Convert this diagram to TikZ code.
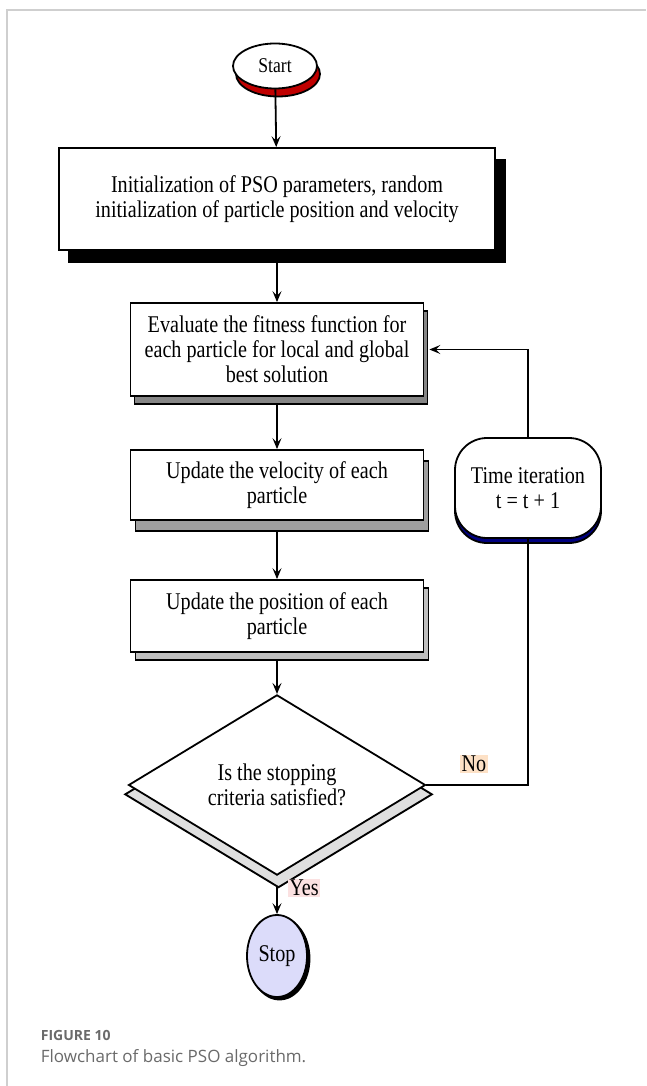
\documentclass[tikz,border=0pt]{standalone}
\usepackage{fontspec}
\setmainfont{Liberation Serif}[FakeStretch=0.84]
\newfontfamily\capfont{Open Sans}
\usetikzlibrary{shapes.geometric,shadows,arrows.meta}
\definecolor{startred}{HTML}{C00000}
\definecolor{iternavy}{HTML}{000080}
\definecolor{stopblue}{HTML}{DCDCFA}
\definecolor{nopeach}{HTML}{FDE1C6}
\definecolor{yespink}{HTML}{FBE1E1}
\definecolor{capgray}{HTML}{6A6A6A}
\definecolor{framegray}{HTML}{CFCFCF}

\begin{document}
\begin{tikzpicture}[x=1pt, y=-1pt, line width=1.8pt,
    >={Stealth[length=11pt,width=9pt,inset=4.5pt]},
    txt/.style={font=\fontsize{24}{25}\selectfont, align=center},
    box/.style={rectangle, draw, fill=white, txt, inner sep=0pt, minimum width=293pt},
    lbl/.style={txt, inner sep=1.5pt}]

    \useasboundingbox (0,0) rectangle (646,1086);
    \draw[framegray, line width=1.5pt] (7,1086) -- (7,10) -- (646,10);

    % Start
    \node[ellipse, draw, fill=white, minimum width=84pt, minimum height=45pt, inner sep=0pt,
        font=\fontsize{21}{22}\selectfont,
        general shadow={shadow xshift=3pt, shadow yshift=-8pt, fill=startred, draw=black}] (start) at (275,66) {Start};

    % Process boxes
    \node[box, minimum width=436pt, minimum height=102pt,
        general shadow={shadow xshift=10pt, shadow yshift=-12pt, fill=black, draw=black}] (init) at (277,199)
        {Initialization of PSO parameters, random\\initialization of particle position and velocity};
    \node[box, minimum height=93pt,
        general shadow={shadow xshift=4pt, shadow yshift=-8pt, fill=gray!95, draw=black}] (eval) at (277,349.5)
        {Evaluate the fitness function for\\each particle for local and global\\best solution};
    \node[box, minimum height=70pt,
        general shadow={shadow xshift=5pt, shadow yshift=-11pt, fill=gray!75, draw=black}] (vel) at (277,485)
        {Update the velocity of each\\particle};
    \node[box, minimum height=72pt,
        general shadow={shadow xshift=5pt, shadow yshift=-8pt, fill=gray!50, draw=black}] (pos) at (277,616)
        {Update the position of each\\particle};

    % Decision
    \node[diamond, draw, fill=white, txt, minimum width=297pt, minimum height=141pt, inner sep=0pt,
        general shadow={shadow xshift=1.5pt, shadow yshift=-9pt, shadow scale=1.035, fill=gray!25, draw=black}] (crit) at (277,785)
        {Is the stopping\\criteria satisfied?};

    % Time iteration
    \node[rectangle, rounded corners=32pt, draw, fill=white, txt, minimum width=146pt, minimum height=100pt, inner sep=0pt,
        general shadow={shadow yshift=-5pt, fill=iternavy, draw=black}] (iter) at (528,488)
        {Time iteration\\t = t + 1};

    % Stop
    \node[ellipse, draw, fill=stopblue, txt, minimum width=60pt, minimum height=82pt, inner sep=0pt,
        general shadow={shadow xshift=2.5pt, shadow yshift=-2.5pt, fill=black, draw=black}] (stop) at (277,956) {Stop};

    % Labels
    \node[lbl, fill=nopeach] (no) at (474,764) {No};
    \node[lbl, fill=yespink] (yes) at (304,888) {Yes};

    % Caption
    \node[anchor=west, inner sep=0pt, text=capgray, font=\capfont\bfseries\fontsize{14}{16}\selectfont] (fig) at (40,1035) {FIGURE 10};
    \node[anchor=west, inner sep=0pt, text=capgray, font=\capfont\fontsize{17}{20}\selectfont] (cap) at (40,1058) {Flowchart of basic PSO algorithm.};

    % Connections
    \draw[->] (start) -- (init);
    \draw[->] ([yshift=-12pt]init.south) -- (eval);
    \draw[->] ([yshift=-8pt]eval.south) -- (vel);
    \draw[->] ([yshift=-11pt]vel.south) -- (pos);
    \draw[->] ([yshift=-8pt]pos.south) -- (crit);
    \draw[->] ([yshift=-10pt]crit.south) -- (stop);
    \draw (crit.east) -| (iter.south);
    \draw[->] (iter.north) |- ([xshift=5pt]eval.east);
\end{tikzpicture}
\end{document}
